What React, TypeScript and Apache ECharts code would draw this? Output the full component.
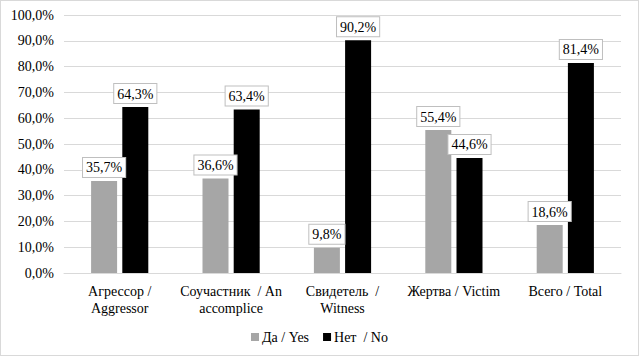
import React, { useEffect, useRef } from "react";
import * as echarts from "echarts";

const categories = [
  "Агрессор /\nAggressor",
  "Соучастник  / An\naccomplice",
  "Свидетель  /\nWitness",
  "Жертва / Victim",
  "Всего / Total",
];
const yesValues = [35.7, 36.6, 9.8, 55.4, 18.6];
const noValues = [64.3, 63.4, 90.2, 44.6, 81.4];
const seriesNames = ["Да / Yes", "Нет  / No"];

const FONT = "Liberation Serif";
const fmt = (v: number) => v.toFixed(1).replace(".", ",") + "%";

export default function App() {
  const ref = useRef<HTMLDivElement>(null);
  useEffect(() => {
    if (!ref.current) return;
    const chart = echarts.init(ref.current, undefined, { renderer: "svg" });
    const label = {
      show: true,
      position: "top" as const,
      distance: 4,
      formatter: (p: any) => fmt(p.value),
      fontFamily: FONT,
      fontSize: 14,
      color: "#000",
      backgroundColor: "#fff",
      borderColor: "#bfbfbf",
      borderWidth: 1,
      padding: [3, 3, 2, 3],
    };
    chart.setOption({
      animation: false,
      textStyle: { fontFamily: FONT },
      grid: { left: 63, right: 17, top: 14, bottom: 82, containLabel: false },
      legend: {
        bottom: 6,
        left: "center",
        itemWidth: 8,
        itemHeight: 8,
        itemGap: 14,
        icon: "rect",
        textStyle: { fontFamily: FONT, fontSize: 14, color: "#000", padding: [0, 0, 0, -2] },
        data: seriesNames,
      },
      xAxis: {
        type: "category",
        data: categories,
        axisLine: { lineStyle: { color: "#d9d9d9" } },
        axisTick: { show: false },
        axisLabel: { fontFamily: FONT, fontSize: 14, color: "#000", margin: 10, lineHeight: 17, interval: 0 },
      },
      yAxis: {
        type: "value",
        min: 0,
        max: 100,
        interval: 10,
        axisLine: { show: false },
        axisTick: { show: false },
        splitLine: { lineStyle: { color: "#d9d9d9" } },
        axisLabel: {
          fontFamily: FONT,
          fontSize: 14,
          color: "#000",
          margin: 10,
          formatter: (v: number) => v.toFixed(1).replace(".", ",") + "%",
        },
      },
      series: [
        {
          name: seriesNames[0],
          type: "bar",
          data: yesValues,
          barWidth: 26,
          barGap: "20%",
          itemStyle: { color: "#a6a6a6" },
          label,
        },
        {
          name: seriesNames[1],
          type: "bar",
          data: noValues,
          barWidth: 26,
          barGap: "20%",
          itemStyle: { color: "#000000" },
          label,
        },
      ],
    });
    return () => chart.dispose();
  }, []);
  return (
    <div
      style={{
        position: "fixed",
        left: 0,
        top: 0,
        width: 639,
        height: 356,
        boxSizing: "border-box",
        border: "1px solid #d9d9d9",
        background: "#fff",
      }}
    >
      <div ref={ref} style={{ width: 637, height: 354 }} />
    </div>
  );
}
